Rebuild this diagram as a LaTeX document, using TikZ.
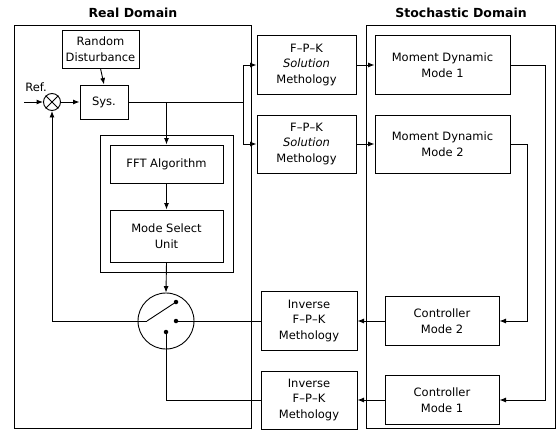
\documentclass[tikz,border=0pt]{standalone}
\usepackage{fontspec}
\setmainfont{DejaVu Sans}
\usetikzlibrary{arrows.meta}
\tikzset{
  blk/.style={draw, line width=1pt, align=center, inner sep=0pt, font=\fontsize{11.5}{15.5}\selectfont},
  con/.style={line width=0.9pt, -{Latex[length=6.5pt,width=5pt]}},
  wire/.style={line width=0.9pt},
  frm/.style={line width=0.7pt},
  contact/.style={circle, fill, inner sep=0pt, minimum size=4.5pt},
  ttl/.style={font=\bfseries\fontsize{12.5}{15}\selectfont}
}
\begin{document}
\begin{tikzpicture}[x=1pt,y=-1pt]
\useasboundingbox (0,0) rectangle (558,431);
% domains
\draw[frm] (14,25) rectangle (251,428);
\draw[frm] (366,25) rectangle (555,428);
\node[ttl] (realttl) at (133,13) {Real Domain};
\node[ttl] (stochttl) at (461,13) {Stochastic Domain};
\draw[frm] (100,135) rectangle (233,272);
% real domain blocks
\node[blk, minimum width=77pt, minimum height=38pt] (rd) at (100.5,49) {Random\\Disturbance};
\node[blk, minimum width=48pt, minimum height=34pt] (sys) at (104,102) {Sys.};
\node[draw, circle, line width=0.9pt, minimum size=17pt, inner sep=0pt] (sum) at (52,102) {};
\draw[wire] (sum.north west) -- (sum.south east) (sum.north east) -- (sum.south west);
\node[font=\fontsize{11.5}{14}\selectfont] (ref) at (36,87) {Ref.};
\coordinate (in) at (24,102);
\node[blk, minimum width=113pt, minimum height=38pt] (fft) at (166.5,164) {FFT Algorithm};
\node[blk, minimum width=113pt, minimum height=52pt] (msu) at (166.5,236) {Mode Select\\Unit};
\node[draw, circle, line width=0.9pt, minimum size=56pt, inner sep=0pt] (sw) at (166,321) {};
\coordinate (piv) at (147,321);
\node[contact] (cup) at (176,302) {};
\node[contact] (cri) at (176,321) {};
\node[contact] (clo) at (166,332) {};
% middle column
\node[blk, minimum width=99pt, minimum height=59pt] (fpk1) at (306.5,65) {F--P--K\\\textit{Solution}\\Methology};
\node[blk, minimum width=99pt, minimum height=58pt] (fpk2) at (306.5,144) {F--P--K\\\textit{Solution}\\Methology};
\node[blk, minimum width=96pt, minimum height=59pt] (inv2) at (309,321) {Inverse\\F--P--K\\Methology};
\node[blk, minimum width=96pt, minimum height=58pt] (inv1) at (309,400) {Inverse\\F--P--K\\Methology};
% stochastic domain blocks
\node[blk, minimum width=135pt, minimum height=59pt] (md1) at (442.5,65) {Moment Dynamic\\Mode 1};
\node[blk, minimum width=135pt, minimum height=58pt] (md2) at (442.5,144) {Moment Dynamic\\Mode 2};
\node[blk, minimum width=114pt, minimum height=49pt] (cm2) at (442,321) {Controller\\Mode 2};
\node[blk, minimum width=114pt, minimum height=49pt] (cm1) at (442,400) {Controller\\Mode 1};
% connectors
\draw[con] (in) -- (sum.west);
\draw[con] (sum.east) -- (sys.west);
\draw[con] (rd.south) -- (sys.north);
\coordinate (br) at (243,102);
\coordinate (tap) at (fft.north |- sys.east);
\draw[wire] (sys.east) -- (br);
\draw[con] (br) |- (fpk1.west);
\draw[con] (br) |- (fpk2.west);
\draw[con] (tap) -- (fft.north);
\draw[con] (fft.south) -- (msu.north);
\draw[con] (msu.south) -- (sw.north);
\draw[con] (fpk1.east) -- (md1.west);
\draw[con] (fpk2.east) -- (md2.west);
\draw[con] (md1.east) -- ++(35,0) |- (cm1.east);
\draw[con] (md2.east) -- ++(17,0) |- (cm2.east);
\draw[con] (cm2.west) -- (inv2.east);
\draw[con] (cm1.west) -- (inv1.east);
\draw[wire] (piv) -- (cup.center);
\draw[con] (piv) -| (sum.south);
\draw[wire] (cri.center) -- (inv2.west);
\draw[wire] (clo.center) |- (inv1.west);
\end{tikzpicture}
\end{document}
